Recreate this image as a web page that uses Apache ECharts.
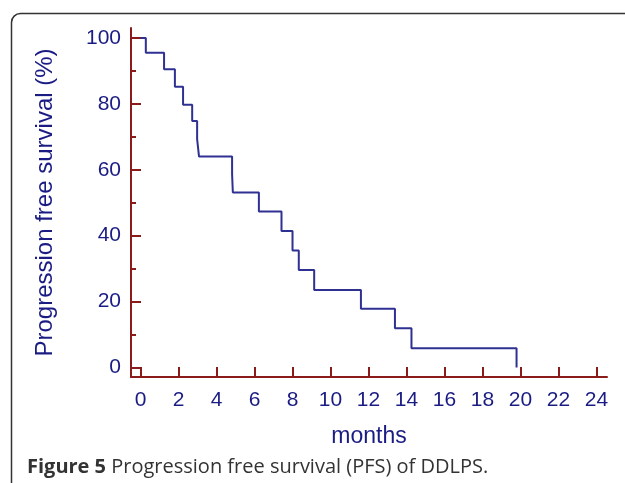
<!DOCTYPE html>
<html>
<head>
<meta charset="utf-8">
<script src="https://cdn.jsdelivr.net/npm/echarts@6/dist/echarts.min.js"></script>
<style>
html,body{margin:0;padding:0;background:#fff;}
#chart{width:625px;height:483px;}
</style>
</head>
<body>
<div id="chart"></div>
<script>
// Kaplan-Meier step points: survival (%) becomes value at given month
const months = [0, 0.28, 1.24, 1.81, 2.24, 2.72, 2.98, 3.08, 4.82, 4.86, 6.23, 7.42, 8.0, 8.33, 9.14, 11.6, 13.39, 14.26, 19.79];
const survival = [100, 95.5, 90.5, 85.2, 79.7, 74.8, 69.3, 64.0, 58.6, 53.1, 47.3, 41.4, 35.5, 29.6, 23.5, 17.8, 11.9, 5.8, 0];
const xTicks = [0, 2, 4, 6, 8, 10, 12, 14, 16, 18, 20, 22, 24];
const yTicks = [0, 20, 40, 60, 80, 100];
const yMinorTicks = [10, 30, 50, 70, 90];
const xTitle = 'months';
const yTitle = 'Progression free survival (%)';
const caption = 'Progression free survival (PFS) of DDLPS.';
const captionLabel = 'Figure 5';

const axisColor = '#8b1a1a';
const textColor = '#1a1c84';
const lineColor = '#2e3192';
const font = "'Liberation Sans', Arial, sans-serif";

const chart = echarts.init(document.getElementById('chart'), null, {renderer: 'canvas'});
const yMin = -2.9, yMax = 103;
chart.setOption({
  animation: false,
  backgroundColor: '#fff',
  title: {
    text: '{b|' + captionLabel + '} ' + caption,
    left: 22, top: 452,
    textStyle: {
      fontFamily: "'Open Sans', sans-serif", fontSize: 20, fontWeight: 'normal', color: '#333',
      rich: { b: { fontFamily: "'Open Sans', sans-serif", fontSize: 20, fontWeight: 'bold', color: '#333' } }
    }
  },
  graphic: [{
    type: 'rect', left: 9, top: 11, silent: true,
    shape: { width: 700, height: 600, r: 9 },
    style: { fill: 'none', stroke: '#333', lineWidth: 1.5 }
  }],
  grid: { left: 131, right: 18, top: 28, bottom: 106, containLabel: false },
  xAxis: {
    type: 'value', min: -0.5, max: 24.55,
    name: xTitle, nameLocation: 'middle', nameGap: 48,
    nameTextStyle: { color: textColor, fontSize: 23, fontFamily: font },
    axisLine: { show: true, onZero: false, lineStyle: { color: axisColor, width: 2 } },
    axisTick: { show: true, inside: true, length: 10, customValues: xTicks, lineStyle: { color: axisColor, width: 2 } },
    axisLabel: { customValues: xTicks, color: textColor, fontSize: 21, fontFamily: font, margin: 13 },
    splitLine: { show: false }
  },
  yAxis: [{
    type: 'value', min: yMin, max: yMax,
    name: yTitle, nameLocation: 'middle', nameGap: 74, nameRotate: 90,
    nameTextStyle: { color: textColor, fontSize: 24, fontFamily: font },
    axisLine: { show: true, onZero: false, lineStyle: { color: axisColor, width: 2 } },
    axisTick: { show: true, inside: true, length: 10, customValues: yTicks, lineStyle: { color: axisColor, width: 2 } },
    axisLabel: { customValues: yTicks, color: textColor, fontSize: 21, fontFamily: font, margin: 10 },
    splitLine: { show: false }
  }, {
    type: 'value', min: yMin, max: yMax, position: 'left',
    axisLine: { show: false, onZero: false },
    axisTick: { show: true, inside: true, length: 5, customValues: yMinorTicks, lineStyle: { color: axisColor, width: 2 } },
    axisLabel: { show: false },
    splitLine: { show: false }
  }],
  series: [{
    type: 'line', step: 'end', showSymbol: false, symbol: 'none',
    lineStyle: { color: lineColor, width: 2 },
    data: months.map((m, i) => [m, survival[i]])
  }]
});
</script>
</body>
</html>
